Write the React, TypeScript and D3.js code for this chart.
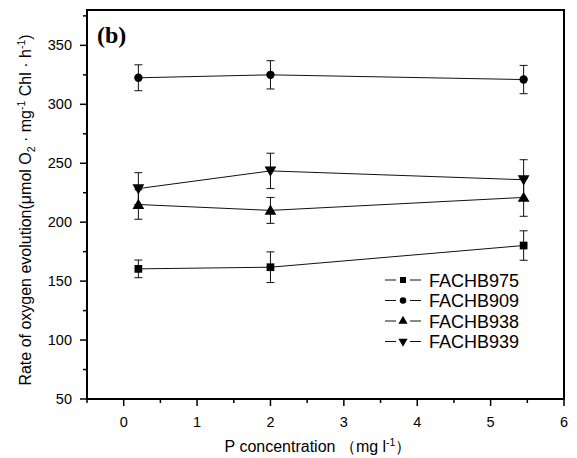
import React, { useEffect, useRef } from 'react';
import * as d3 from 'd3';

const concentrations = [0.2, 2, 5.45];
const strains = ['FACHB975', 'FACHB909', 'FACHB938', 'FACHB939'];
const rate975 = [160.4, 161.8, 180.2];
const rate909 = [322.5, 325, 321];
const rate938 = [215, 210, 221];
const rate939 = [228.5, 243.5, 236];
const err975 = [7.5, 13, 12.5];
const err909 = [11, 12, 12];
const err938 = [12.5, 11, 16];
const err939 = [13.5, 15, 17];
const xTicks = [0, 1, 2, 3, 4, 5, 6];
const yTicks = [50, 100, 150, 200, 250, 300, 350];

const W = 577;
const H = 458;
const M = { left: 87, top: 10, right: 13, bottom: 59 };

const App = () => {
    const ref = useRef<SVGSVGElement | null>(null);

    useEffect(() => {
        const svg = d3.select(ref.current);
        svg.selectAll('*').remove();

        const x = d3.scaleLinear().domain([-0.5, 6]).range([M.left, W - M.right]);
        const y = d3.scaleLinear().domain([50, 380]).range([H - M.bottom, M.top]);

        const series = [
            { name: strains[0], values: rate975, errs: err975, symbol: d3.symbolSquare, size: 60, rot: 0 },
            { name: strains[1], values: rate909, errs: err909, symbol: d3.symbolCircle, size: 55, rot: 0 },
            { name: strains[2], values: rate938, errs: err938, symbol: d3.symbolTriangle, size: 60, rot: 0 },
            { name: strains[3], values: rate939, errs: err939, symbol: d3.symbolTriangle, size: 60, rot: 180 },
        ];

        const font = 'Arial, "Liberation Sans", sans-serif';

        // minor + major ticks
        const g = svg.append('g');
        d3.range(-0.5, 6.01, 0.5).forEach(v => {
            const major = Math.abs(v - Math.round(v)) < 1e-6;
            g.append('line')
                .attr('x1', x(v)).attr('x2', x(v))
                .attr('y1', y(50)).attr('y2', y(50) + (major ? 7 : 4))
                .attr('stroke', '#000').attr('stroke-width', 1.5);
        });
        d3.range(50, 381, 25).forEach(v => {
            const major = v % 50 === 0;
            g.append('line')
                .attr('x1', x(-0.5)).attr('x2', x(-0.5) - (major ? 7 : 4))
                .attr('y1', y(v)).attr('y2', y(v))
                .attr('stroke', '#000').attr('stroke-width', 1.5);
        });

        xTicks.forEach(t => {
            g.append('text')
                .attr('x', x(t)).attr('y', y(50) + 28)
                .attr('text-anchor', 'middle')
                .style('font-family', font).style('font-size', '14.5px')
                .text(t);
        });
        yTicks.forEach(t => {
            g.append('text')
                .attr('x', x(-0.5) - 15).attr('y', y(t) + 5)
                .attr('text-anchor', 'end')
                .style('font-family', font).style('font-size', '14.5px')
                .text(t);
        });

        // frame
        svg.append('rect')
            .attr('x', x(-0.5)).attr('y', y(380))
            .attr('width', x(6) - x(-0.5)).attr('height', y(50) - y(380))
            .attr('fill', 'none').attr('stroke', '#000').attr('stroke-width', 2);

        const line = d3.line<number>().x((_, i) => x(concentrations[i])).y(d => y(d));

        series.forEach(s => {
            svg.append('path')
                .attr('d', line(s.values))
                .attr('fill', 'none').attr('stroke', '#111').attr('stroke-width', 1);
        });

        series.forEach(s => {
            s.values.forEach((v, i) => {
                const cx = x(concentrations[i]);
                const eg = svg.append('g').attr('stroke', '#111').attr('stroke-width', 1);
                eg.append('line').attr('x1', cx).attr('x2', cx).attr('y1', y(v - s.errs[i])).attr('y2', y(v + s.errs[i]));
                [v - s.errs[i], v + s.errs[i]].forEach(e => {
                    eg.append('line').attr('x1', cx - 4).attr('x2', cx + 4).attr('y1', y(e)).attr('y2', y(e));
                });
            });
        });

        series.forEach(s => {
            s.values.forEach((v, i) => {
                svg.append('path')
                    .attr('d', d3.symbol(s.symbol, s.size)())
                    .attr('transform', `translate(${x(concentrations[i])},${y(v) + (s.symbol === d3.symbolTriangle ? (s.rot ? -1 : 1) : 0)}) rotate(${s.rot})`)
                    .attr('fill', '#000');
            });
        });

        // legend
        const lg = svg.append('g');
        series.forEach((s, i) => {
            const ly = 280 + i * 20.5;
            lg.append('line').attr('x1', 385).attr('x2', 396).attr('y1', ly).attr('y2', ly).attr('stroke', '#111');
            lg.append('line').attr('x1', 410).attr('x2', 421).attr('y1', ly).attr('y2', ly).attr('stroke', '#111');
            lg.append('path')
                .attr('d', d3.symbol(s.symbol, s.size * 0.6)())
                .attr('transform', `translate(403,${ly}) rotate(${s.rot})`)
                .attr('fill', '#000');
            lg.append('text')
                .attr('x', 429).attr('y', ly + 6.5)
                .style('font-family', font).style('font-size', '18px')
                .text(s.name);
        });

        // panel label
        svg.append('text')
            .attr('x', 97).attr('y', 43)
            .style('font-family', '"Liberation Serif", "Times New Roman", serif')
            .style('font-size', '24px').style('font-weight', 'bold')
            .text('(b)');

        // x title
        const xt = svg.append('text')
            .attr('x', 318).attr('y', 452)
            .attr('text-anchor', 'middle')
            .style('font-family', font).style('font-size', '16px');
        xt.append('tspan').text('P concentration （mg l');
        xt.append('tspan').attr('dy', -6).style('font-size', '10.5px').text('-1');
        xt.append('tspan').attr('dy', 6).text('）');

        // y title
        const yt = svg.append('text')
            .attr('transform', `translate(31,210) rotate(-90)`)
            .attr('text-anchor', 'middle')
            .style('font-family', font).style('font-size', '16px');
        yt.append('tspan').text('Rate of oxygen evolution(μmol O');
        yt.append('tspan').attr('dy', 4).style('font-size', '10.5px').text('2');
        yt.append('tspan').attr('dy', -4).text(' · mg');
        yt.append('tspan').attr('dy', -6).style('font-size', '10.5px').text('-1');
        yt.append('tspan').attr('dy', 6).text(' Chl · h');
        yt.append('tspan').attr('dy', -6).style('font-size', '10.5px').text('-1');
        yt.append('tspan').attr('dy', 6).text(')');
    }, []);

    return (
        <svg ref={ref} width={W} height={H}
            style={{ position: 'absolute', left: 0, top: 0, background: '#fff' }} />
    );
};

export default App;
